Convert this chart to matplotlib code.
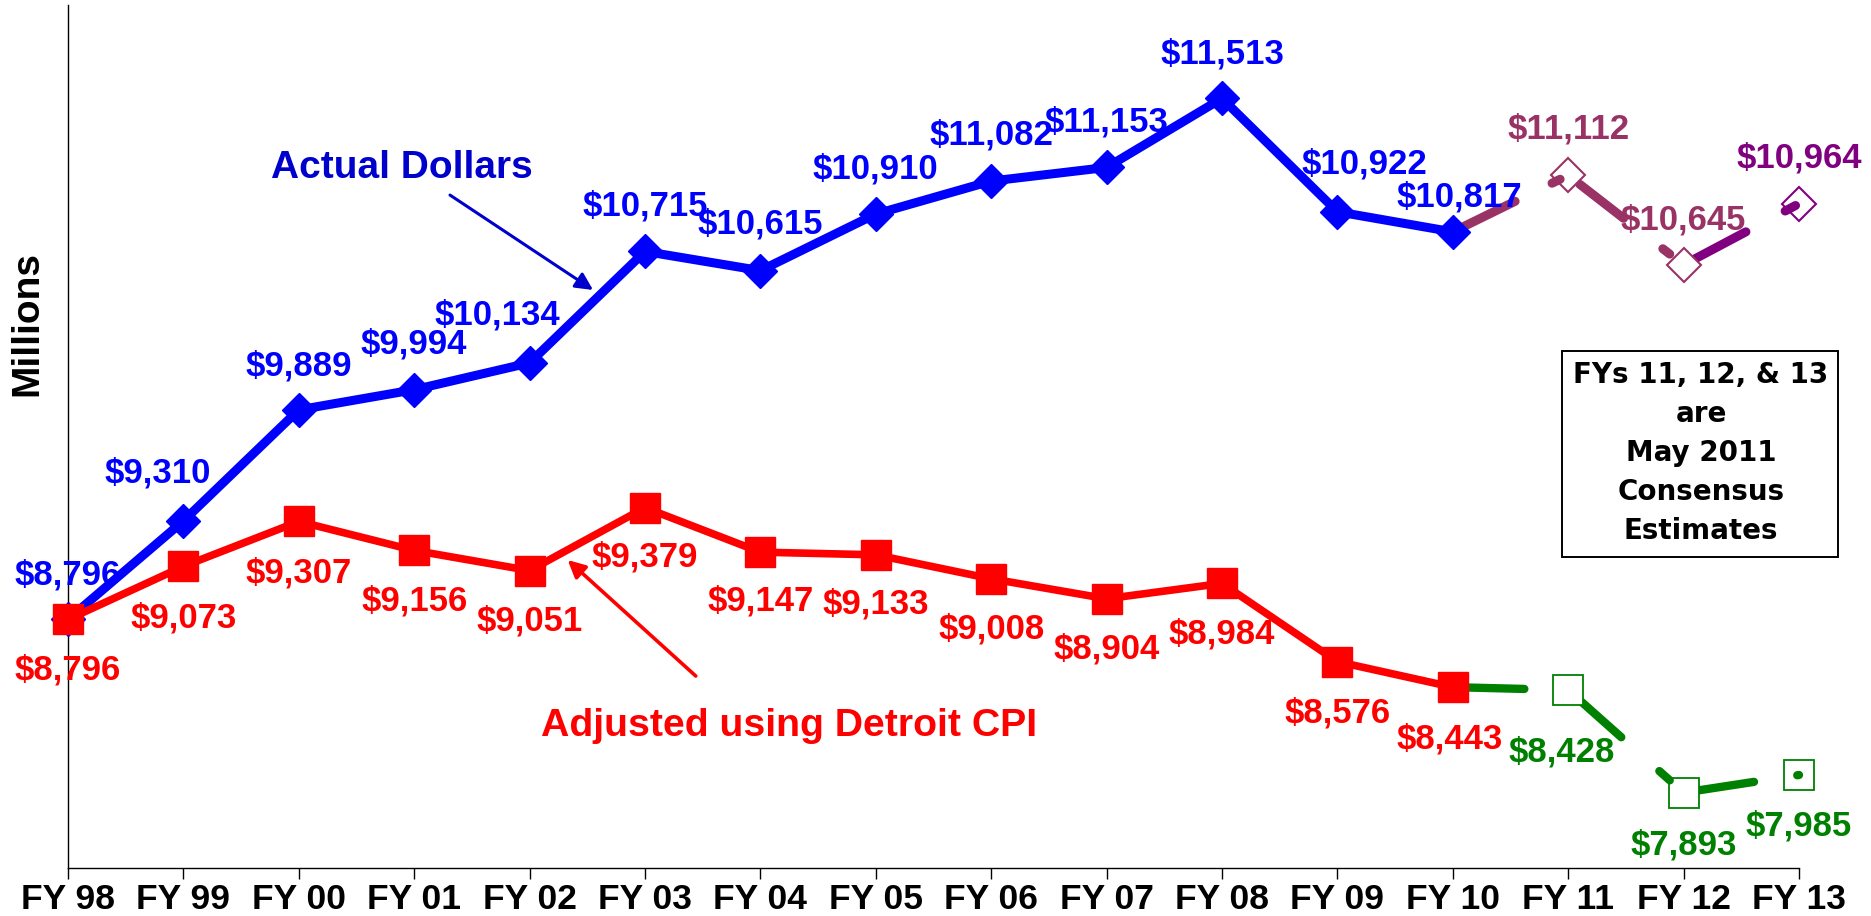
import matplotlib

matplotlib.use("Agg")
import matplotlib.pyplot as plt

plt.rcParams["font.family"] = ["Liberation Sans", "DejaVu Sans"]

W, H = 1871, 916

YEARS = ["FY 98", "FY 99", "FY 00", "FY 01", "FY 02", "FY 03", "FY 04", "FY 05",
         "FY 06", "FY 07", "FY 08", "FY 09", "FY 10", "FY 11", "FY 12", "FY 13"]
ACTUAL = [8796, 9310, 9889, 9994, 10134, 10715, 10615, 10910,
          11082, 11153, 11513, 10922, 10817, 11112, 10645, 10964]
ADJUSTED = [8796, 9073, 9307, 9156, 9051, 9379, 9147, 9133,
            9008, 8904, 8984, 8576, 8443, 8428, 7893, 7985]
N_ACTUAL_YEARS = 13  # FY 98 .. FY 10, the rest are estimates

BLUE = "#0000FF"
RED = "#FF0000"
MAUVE = "#993366"
PURPLE = "#800080"
GREEN = "#008000"
DARKBLUE = "#0000CC"

# label offsets in pixels (dx, up)
ACT_DX = [0, -26, 0, 0, -32, 0, 0, 0, 0, 0, 0, 27, 7, 0, 0, 0]
ACT_UP = [35, 38, 34, 36, 38, 36, 37, 36, 37, 36, 35, 38, 25, 37, 35, 36]
ADJ_DX = [0, 0, 0, 0, 0, 0, 0, 0, 0, 0, 0, 0, -3, -6, 0, 0]
ADJ_UP = [-60, -61, -61, -60, -60, -59, -58, -59, -60, -60, -60, -61, -61, -71, -62, -61]

# the estimate segments are drawn broken, as fractions of each segment
ACT_PIECES = [[(0, 0.54), (0.86, 0.93)], [(0.1, 0.48), (0.82, 0.88)], [(0.1, 0.54), (0.88, 0.97)]]
ACT_EST_COLORS = [MAUVE, MAUVE, PURPLE]
ADJ_PIECES = [[(0, 0.62)], [(0.1, 0.46), (0.79, 0.88)], [(0.1, 0.61), (0.985, 1.0)]]


def pieces(ax, x0, y0, x1, y1, fracs, color, lw):
    for k, (a, b) in enumerate(fracs):
        ax.plot([x0 + a * (x1 - x0), x0 + b * (x1 - x0)],
                [y0 + a * (y1 - y0), y0 + b * (y1 - y0)],
                color=color, lw=lw, solid_capstyle="round",
                zorder=3 if k == 0 else 6, clip_on=False)


fig = plt.figure(figsize=(W / 100, H / 100), dpi=100)
ax = fig.add_axes([68 / W, 1 - 868 / H, (1799 - 68) / W, (868 - 5) / H])
ax.set_xlim(0, 15)
ax.set_ylim(7500, 12000)

x = list(range(len(YEARS)))
n = N_ACTUAL_YEARS

# actual dollars
ax.plot(x[:n], ACTUAL[:n], color=BLUE, lw=6.5, marker="D", ms=17.5,
        mfc=BLUE, mec=BLUE, zorder=4, clip_on=False)
for s in range(3):
    i = n - 1 + s
    pieces(ax, x[i], ACTUAL[i], x[i + 1], ACTUAL[i + 1], ACT_PIECES[s],
           ACT_EST_COLORS[s], 6.5)
for i in range(n, len(x)):
    c = ACT_EST_COLORS[i - n]
    ax.plot(x[i], ACTUAL[i], marker="D", ms=17.5, mfc="white", mec=c,
            mew=1.5, zorder=5, clip_on=False)

# adjusted (Detroit CPI)
ax.plot(x[:n], ADJUSTED[:n], color=RED, lw=5.5, marker="s", ms=21.5,
        mfc=RED, mec=RED, zorder=4.5, clip_on=False)
for s in range(3):
    i = n - 1 + s
    pieces(ax, x[i], ADJUSTED[i], x[i + 1], ADJUSTED[i + 1], ADJ_PIECES[s], GREEN, 6)
for i in range(n, len(x)):
    ax.plot(x[i], ADJUSTED[i], marker="s", ms=21.5, mfc="white", mec=GREEN,
            mew=1.3, zorder=5, clip_on=False)

# value labels
for i, v in enumerate(ACTUAL):
    c = BLUE if i < n else ACT_EST_COLORS[i - n]
    ax.annotate(f"${v:,}", (x[i], v), xytext=(ACT_DX[i], ACT_UP[i]),
                textcoords="offset pixels", ha="center", va="baseline",
                fontsize=25, fontweight="bold", color=c, zorder=7)
for i, v in enumerate(ADJUSTED):
    c = RED if i < n else GREEN
    ax.annotate(f"${v:,}", (x[i], v), xytext=(ADJ_DX[i], ADJ_UP[i]),
                textcoords="offset pixels", ha="center", va="baseline",
                fontsize=25, fontweight="bold", color=c, zorder=7)

# series call-outs
ax.text(2.89, 11150, "Actual Dollars", ha="center", va="center",
        fontsize=28, fontweight="bold", color=DARKBLUE)
ax.annotate("", xy=(4.55, 10514), xytext=(3.31, 11009),
            arrowprops=dict(arrowstyle="-|>", color=DARKBLUE, lw=2.2,
                            mutation_scale=26, shrinkA=0, shrinkB=0))
ax.text(6.25, 8241, "Adjusted using Detroit CPI", ha="center", va="center",
        fontsize=28.3, fontweight="bold", color=RED)
ax.annotate("", xy=(4.33, 9106), xytext=(5.44, 8501),
            arrowprops=dict(arrowstyle="-|>", color=RED, lw=2.6,
                            mutation_scale=26, shrinkA=0, shrinkB=0))

# estimates note
fig.patches.append(plt.Rectangle((1562 / W, 1 - 557 / H), (1838 - 1562) / W,
                                 (557 - 351) / H, transform=fig.transFigure,
                                 fill=False, ec="black", lw=1.4))
fig.text(1701 / W, 1 - 453 / H,
         "FYs 11, 12, & 13\nare\nMay 2011\nConsensus\nEstimates",
         ha="center", va="center", fontsize=20, fontweight="bold",
         family="DejaVu Sans", linespacing=1.5, multialignment="center")

fig.text(27 / W, 1 - 324 / H, "Millions", rotation=90, ha="center",
         va="center", fontsize=28, fontweight="bold")

# axes styling
ax.set_xticks(x)
ax.set_xticklabels(YEARS, fontsize=25.5, fontweight="bold")
ax.tick_params(axis="x", direction="out", length=8, width=1, pad=3)
ax.set_yticks([])
for side in ("top", "right"):
    ax.spines[side].set_visible(False)
for side in ("left", "bottom"):
    ax.spines[side].set_linewidth(1)
    ax.spines[side].set_color("black")

fig.savefig("out.png", dpi=100)
